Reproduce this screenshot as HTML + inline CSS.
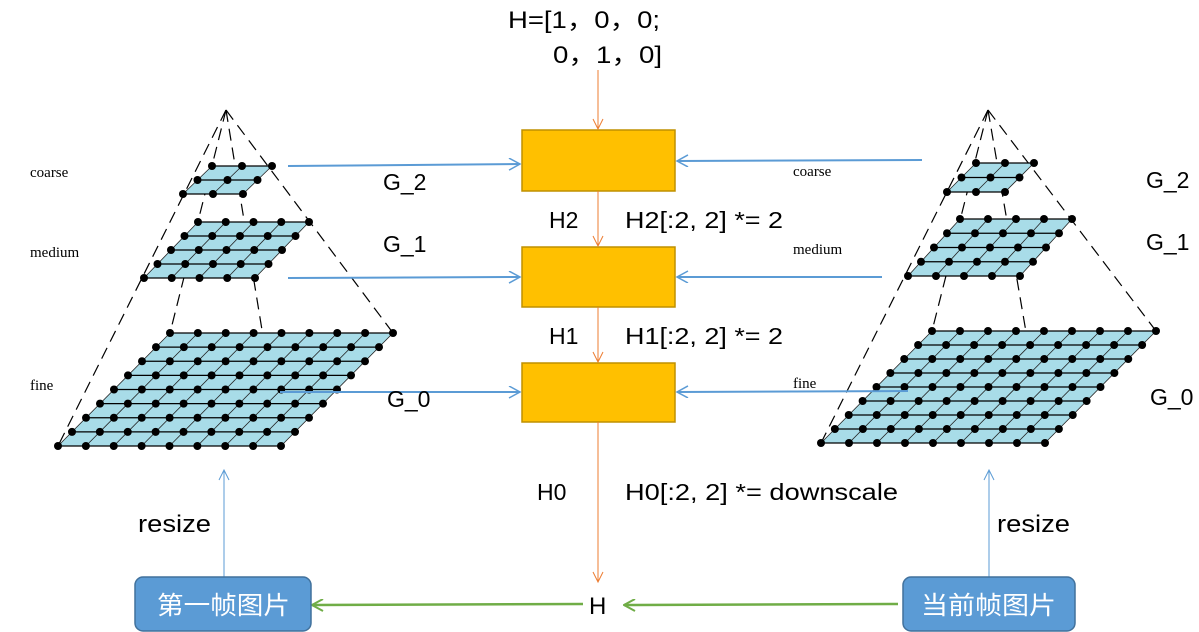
<!DOCTYPE html>
<html><head><meta charset="utf-8"><style>
html,body{margin:0;padding:0;background:#fff;}
svg{display:block;}
.t{font-family:"Liberation Sans","Noto Sans CJK SC",sans-serif;fill:#000;}
.s{font-family:"Liberation Serif",serif;font-size:15px;fill:#000;}
</style></head><body>
<svg id="sv" width="1199" height="632" viewBox="0 0 1199 632" xmlns="http://www.w3.org/2000/svg">
<defs>
<marker id="ab" markerWidth="14" markerHeight="14" refX="12" refY="6" orient="auto" markerUnits="userSpaceOnUse"><path d="M1,0 L12,6 L1,12" fill="none" stroke="#5B9BD5" stroke-width="1.5"/></marker>
<marker id="ao" markerWidth="14" markerHeight="14" refX="6" refY="11" orient="0" markerUnits="userSpaceOnUse"><path d="M1,1 L6,11 L11,1" fill="none" stroke="#ED7D31" stroke-width="1"/></marker>
<marker id="ag" markerWidth="14" markerHeight="14" refX="1" refY="6" orient="0" markerUnits="userSpaceOnUse"><path d="M12,0 L1,6 L12,12" fill="none" stroke="#70AD47" stroke-width="2"/></marker>
<marker id="au" markerWidth="14" markerHeight="14" refX="6" refY="1" orient="0" markerUnits="userSpaceOnUse"><path d="M1,11 L6,1 L11,11" fill="none" stroke="#5B9BD5" stroke-width="1"/></marker>
</defs>
<g id="pyr"></g>

<rect x="522" y="130" width="153" height="61" fill="#FFC000" stroke="#BF9000" stroke-width="1.5"/>
<rect x="522" y="247" width="153" height="60" fill="#FFC000" stroke="#BF9000" stroke-width="1.5"/>
<rect x="522" y="363" width="153" height="59" fill="#FFC000" stroke="#BF9000" stroke-width="1.5"/>

<g stroke="#ED7D31" stroke-width="1" fill="none">
<line x1="598" y1="70" x2="598" y2="129" marker-end="url(#ao)"/>
<line x1="598" y1="191" x2="598" y2="246" marker-end="url(#ao)"/>
<line x1="598" y1="307" x2="598" y2="362" marker-end="url(#ao)"/>
<line x1="598" y1="422" x2="598" y2="582" marker-end="url(#ao)"/>
</g>

<g stroke="#5B9BD5" stroke-width="2" fill="none">
<line x1="288" y1="166" x2="520" y2="164" marker-end="url(#ab)"/>
<line x1="288" y1="278" x2="520" y2="277" marker-end="url(#ab)"/>
<line x1="280" y1="392" x2="520" y2="392" marker-end="url(#ab)"/>
<line x1="922" y1="160" x2="677" y2="161" marker-end="url(#ab)"/>
<line x1="882" y1="277" x2="677" y2="277" marker-end="url(#ab)"/>
<line x1="908" y1="391" x2="677" y2="392" marker-end="url(#ab)"/>
</g>
<g stroke="#5B9BD5" stroke-width="1" fill="none">
<line x1="224" y1="577" x2="224" y2="470" marker-end="url(#au)"/>
<line x1="989" y1="577" x2="989" y2="470" marker-end="url(#au)"/>
</g>
<g stroke="#70AD47" stroke-width="2.5" fill="none">
<line x1="583" y1="604" x2="312" y2="605" marker-end="url(#ag)"/>
<line x1="898" y1="604" x2="624" y2="605" marker-end="url(#ag)"/>
</g>

<rect x="135" y="577" width="176" height="54" rx="8" fill="#5B9BD5" stroke="#41719C" stroke-width="1.5"/>
<rect x="903" y="577" width="172" height="54" rx="8" fill="#5B9BD5" stroke="#41719C" stroke-width="1.5"/>
<text class="t" x="157" y="614" font-size="25" textLength="133" lengthAdjust="spacingAndGlyphs" style="fill:#fff">第一帧图片</text>
<text class="t" x="921" y="614" font-size="25" textLength="135" lengthAdjust="spacingAndGlyphs" style="fill:#fff">当前帧图片</text>

<text class="t" x="508" y="28" font-size="24" textLength="152" lengthAdjust="spacingAndGlyphs">H=[1，0，0;</text>
<text class="t" x="553" y="63" font-size="24" textLength="109" lengthAdjust="spacingAndGlyphs">0，1，0]</text>
<text class="t" x="549" y="228" font-size="23">H2</text>
<text class="t" x="625" y="228" font-size="23" textLength="158" lengthAdjust="spacingAndGlyphs">H2[:2, 2] *= 2</text>
<text class="t" x="549" y="344" font-size="23">H1</text>
<text class="t" x="625" y="344" font-size="23" textLength="158" lengthAdjust="spacingAndGlyphs">H1[:2, 2] *= 2</text>
<text class="t" x="537" y="500" font-size="23">H0</text>
<text class="t" x="625" y="500" font-size="23" textLength="273" lengthAdjust="spacingAndGlyphs">H0[:2, 2] *= downscale</text>
<text class="t" x="589" y="614" font-size="24">H</text>
<text class="t" x="138" y="532" font-size="24" textLength="73" lengthAdjust="spacingAndGlyphs">resize</text>
<text class="t" x="997" y="532" font-size="24" textLength="73" lengthAdjust="spacingAndGlyphs">resize</text>
<text class="t" x="383" y="190" font-size="23">G_2</text>
<text class="t" x="383" y="252" font-size="23">G_1</text>
<text class="t" x="387" y="407" font-size="23">G_0</text>
<text class="t" x="1146" y="188" font-size="23">G_2</text>
<text class="t" x="1146" y="250" font-size="23">G_1</text>
<text class="t" x="1150" y="405" font-size="23">G_0</text>
<text class="s" x="30" y="177">coarse</text>
<text class="s" x="30" y="257">medium</text>
<text class="s" x="30" y="390">fine</text>
<text class="s" x="793" y="176">coarse</text>
<text class="s" x="793" y="254">medium</text>
<text class="s" x="793" y="388">fine</text>
</svg>
<script>
(function(){
var NS="http://www.w3.org/2000/svg",g=document.getElementById("pyr");
function el(n,a){var e=document.createElementNS(NS,n);for(var k in a)e.setAttribute(k,a[k]);g.appendChild(e);return e;}
function grid(tl,tr,ty,bl,by,n){
 var br=bl+(tr-tl);
 el("polygon",{points:tl+","+ty+" "+tr+","+ty+" "+br+","+by+" "+bl+","+by,fill:"#A8DCE8"});
 var i,j;
 for(i=0;i<=n;i++){var f=i/n,y=ty+(by-ty)*f,x0=tl+(bl-tl)*f;
  el("line",{x1:x0,y1:y,x2:x0+(tr-tl),y2:y,stroke:"#000","stroke-width":1.3});}
 for(j=0;j<=n;j++){var f2=j/n,xt=tl+(tr-tl)*f2,xb=bl+(br-bl)*f2;
  el("line",{x1:xt,y1:ty,x2:xb,y2:by,stroke:"#222","stroke-width":0.8});}
 for(i=0;i<=n;i++)for(j=0;j<=n;j++){
  var f=i/n,y=ty+(by-ty)*f,x0=tl+(bl-tl)*f,x=x0+(tr-tl)*j/n;
  el("circle",{cx:x,cy:y,r:4,fill:"#000"});}
}
function pyr(ax,ay,c,m,fi){
 var d={stroke:"#000","stroke-width":1.2,"stroke-dasharray":"12,7",fill:"none"};
 var fbr=fi[3]+(fi[1]-fi[0]);
 [[fi[3],fi[4]],[fi[1],fi[2]],[fi[0],fi[2]],[fbr,fi[4]]].forEach(function(p){
  var a=Object.assign({x1:ax,y1:ay,x2:p[0],y2:p[1]},d);el("line",a);});
 grid(c[0],c[1],c[2],c[3],c[4],2);
 grid(m[0],m[1],m[2],m[3],m[4],4);
 grid(fi[0],fi[1],fi[2],fi[3],fi[4],8);
}
pyr(226,110,[212,272,166,183,194],[198,309,222,144,278],[170,393,333,58,446]);
pyr(988,110,[976,1034,163,947,192],[960,1072,219,908,276],[932,1156,331,821,443]);
})();
</script>
</body></html>
